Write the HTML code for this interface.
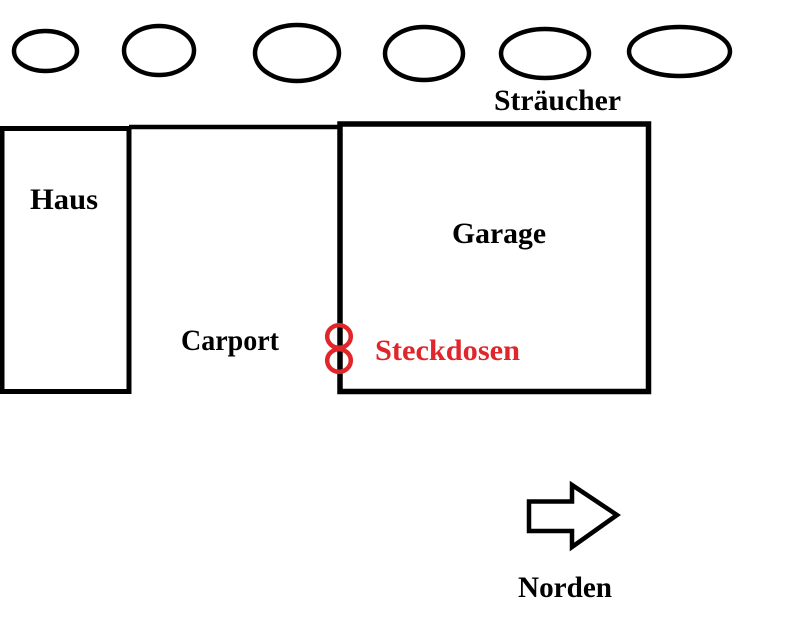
<!DOCTYPE html>
<html>
<head>
<meta charset="utf-8">
<style>
  html, body { margin: 0; padding: 0; background: #fff; }
  svg { display: block; }
  text { font-family: "Liberation Serif", serif; font-weight: bold; font-size: 30px; }
</style>
</head>
<body>
<svg width="800" height="629" viewBox="0 0 800 629" xmlns="http://www.w3.org/2000/svg">
  <rect x="0" y="0" width="800" height="629" fill="#fff"/>

  <!-- Sträucher ellipses -->
  <g fill="none" stroke="#000" stroke-width="4.5">
    <ellipse cx="45.5" cy="51" rx="31.5" ry="20"/>
    <ellipse cx="159" cy="50.5" rx="35" ry="24.5"/>
    <ellipse cx="297" cy="53" rx="42" ry="28"/>
    <ellipse cx="424" cy="53.5" rx="39" ry="26.5"/>
    <ellipse cx="545" cy="53.5" rx="44" ry="24.5"/>
    <ellipse cx="679.5" cy="51.5" rx="50.5" ry="24.5"/>
  </g>

  <!-- Haus -->
  <rect x="2" y="128.5" width="127" height="263" fill="none" stroke="#000" stroke-width="5"/>
  <!-- Carport top line -->
  <line x1="129" y1="127" x2="342" y2="127" stroke="#000" stroke-width="4.5"/>
  <!-- Garage -->
  <rect x="340" y="124" width="308.5" height="267.5" fill="none" stroke="#000" stroke-width="5.5"/>

  <!-- Steckdosen (red circles) -->
  <g fill="none" stroke="#e0262b" stroke-width="4.5">
    <ellipse cx="339" cy="336.5" rx="11.8" ry="11.3"/>
    <ellipse cx="339" cy="360.5" rx="11.8" ry="11.3"/>
  </g>

  <!-- North arrow -->
  <polygon points="529,501.5 572,501.5 572,485 617,515 572,547 572,531 529,531" fill="none" stroke="#000" stroke-width="4.5" stroke-linejoin="miter"/>

  <!-- Labels -->
  <text x="494" y="110" textLength="127" lengthAdjust="spacingAndGlyphs">Sträucher</text>
  <text x="30" y="209" textLength="68" lengthAdjust="spacingAndGlyphs">Haus</text>
  <text x="452" y="243" textLength="94" lengthAdjust="spacingAndGlyphs">Garage</text>
  <text x="181" y="350" textLength="98" lengthAdjust="spacingAndGlyphs">Carport</text>
  <text x="375" y="360" textLength="145" lengthAdjust="spacingAndGlyphs" fill="#e0262b">Steckdosen</text>
  <text x="518" y="597" textLength="94" lengthAdjust="spacingAndGlyphs">Norden</text>
</svg>
</body>
</html>
